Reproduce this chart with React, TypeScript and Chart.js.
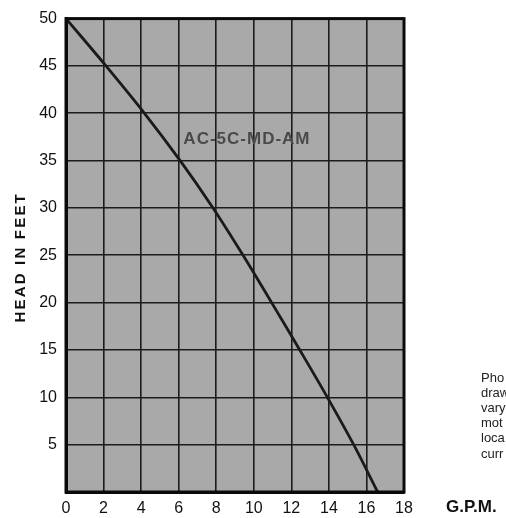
import React, { useEffect, useRef } from "react";
import { Chart, registerables } from "chart.js";

Chart.register(...registerables);

const gpm = [0, 2.13, 4.18, 6.08, 7.83, 9.43, 10.95, 12.45, 13.92, 15.32, 16.6];
const headFeet = [50, 45, 40, 35, 30, 25, 20, 15, 10, 5, 0];
const xTicks = [0, 2, 4, 6, 8, 10, 12, 14, 16, 18];
const yTicks = [0, 5, 10, 15, 20, 25, 30, 35, 40, 45, 50];
const curveLabel = "AC-5C-MD-AM";
const yTitle = "HEAD IN FEET";
const xTitle = "G.P.M.";
const sideNote = ["Pho", "draw", "vary", "mot", "loca", "curr"];

const FONT = "'Liberation Sans', Arial, Helvetica, sans-serif";

const decorPlugin = {
  id: "decor",
  beforeDraw(chart: any) {
    const { ctx, chartArea } = chart;
    const { left, top, right, bottom } = chartArea;
    ctx.save();
    ctx.fillStyle = "#ffffff";
    ctx.fillRect(0, 0, chart.width, chart.height);
    ctx.fillStyle = "#a9a9a9";
    ctx.fillRect(left, top, right - left, bottom - top);
    ctx.restore();
  },
  afterDraw(chart: any) {
    const { ctx, chartArea, scales } = chart;
    const { left, top, right, bottom } = chartArea;
    ctx.save();
    ctx.strokeStyle = "#0a0a0a";
    ctx.lineWidth = 3;
    ctx.strokeRect(left, top, right - left, bottom - top);

    // curve label
    ctx.fillStyle = "#4a4a4a";
    ctx.font = `bold 17px ${FONT}`;
    (ctx as any).letterSpacing = "1px";
    ctx.textAlign = "left";
    ctx.textBaseline = "middle";
    ctx.fillText(curveLabel, scales.x.getPixelForValue(6.25), scales.y.getPixelForValue(37.3));

    // y title
    ctx.save();
    ctx.fillStyle = "#111111";
    ctx.font = `bold 15px ${FONT}`;
    (ctx as any).letterSpacing = "2.2px";
    ctx.translate(21, (top + bottom) / 2 + 2);
    ctx.rotate(-Math.PI / 2);
    ctx.textAlign = "center";
    ctx.textBaseline = "middle";
    ctx.fillText(yTitle, 0, 0);
    ctx.restore();

    // x title
    (ctx as any).letterSpacing = "0px";
    ctx.fillStyle = "#111111";
    ctx.font = `bold 17px ${FONT}`;
    ctx.textAlign = "left";
    ctx.textBaseline = "middle";
    ctx.fillText(xTitle, 446, 507);

    // side note (cut off at the page edge)
    ctx.fillStyle = "#222222";
    ctx.font = `13px ${FONT}`;
    sideNote.forEach((t, i) => {
      ctx.fillText(t, 481, 378 + i * 15.2);
    });
    ctx.restore();
  },
};

export default function App() {
  const canvasRef = useRef<HTMLCanvasElement | null>(null);

  useEffect(() => {
    if (!canvasRef.current) return;
    const chart = new Chart(canvasRef.current, {
      type: "line",
      data: {
        datasets: [
          {
            data: gpm.map((x, i) => ({ x, y: headFeet[i] })),
            borderColor: "#1a1a1a",
            borderWidth: 2.8,
            pointRadius: 0,
            tension: 0.35,
            fill: false,
          },
        ],
      },
      options: {
        animation: false,
        responsive: false,
        events: [],
        layout: { padding: { top: 17, right: 102, left: 0, bottom: 0 } },
        plugins: {
          legend: { display: false },
          tooltip: { enabled: false },
          title: { display: false },
        },
        scales: {
          x: {
            type: "linear",
            min: 0,
            max: 18,
            afterBuildTicks: (scale: any) => {
              scale.ticks = xTicks.map((v) => ({ value: v }));
            },
            afterFit: (scale: any) => {
              scale.height = 26;
            },
            grid: { color: "#1c1c1c", lineWidth: 1.6, drawTicks: false },
            border: { display: true, color: "#0a0a0a", width: 3 },
            ticks: {
              padding: 7,
              color: "#111111",
              font: { family: FONT, size: 16 },
              maxRotation: 0,
              autoSkip: false,
            },
          },
          y: {
            type: "linear",
            min: 0,
            max: 50,
            afterBuildTicks: (scale: any) => {
              scale.ticks = yTicks.map((v) => ({ value: v }));
            },
            afterFit: (scale: any) => {
              scale.width = 66;
            },
            grid: { color: "#1c1c1c", lineWidth: 1.6, drawTicks: false },
            border: { display: true, color: "#0a0a0a", width: 3 },
            ticks: {
              padding: 9,
              color: "#111111",
              font: { family: FONT, size: 16 },
              autoSkip: false,
              callback: (v: any) => (Number(v) === 0 ? "" : String(v)),
            },
          },
        },
      } as any,
      plugins: [decorPlugin],
    });
    return () => chart.destroy();
  }, []);

  return (
    <div style={{ position: "absolute", left: 0, top: 0, width: 506, height: 518, background: "#fff" }}>
      <canvas ref={canvasRef} width={506} height={518} style={{ width: 506, height: 518, display: "block" }} />
    </div>
  );
}
